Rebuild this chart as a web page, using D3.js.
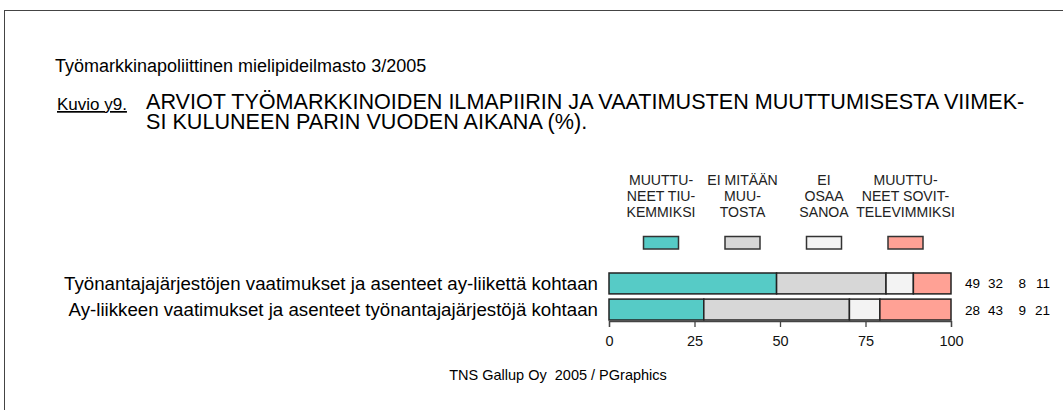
<!DOCTYPE html>
<html>
<head>
<meta charset="utf-8">
<script src="https://cdn.jsdelivr.net/npm/d3@7"></script>
<style>
  body { margin: 0; background: #fff; }
  svg { display: block; font-family: "Liberation Sans", Arial, sans-serif; }
</style>
</head>
<body>
<svg id="chart" width="1063" height="410"></svg>
<script>
// data
var categories = [
  "Työnantajajärjestöjen vaatimukset ja asenteet ay-liikettä kohtaan",
  "Ay-liikkeen vaatimukset ja asenteet työnantajajärjestöjä kohtaan"
];
var seriesKeys = ["tiukemmiksi", "eiMuutosta", "eos", "sovittelevammiksi"];
var seriesLabels = [
  ["MUUTTU-", "NEET TIU-", "KEMMIKSI"],
  ["EI MITÄÄN", "MUU-", "TOSTA"],
  ["EI", "OSAA", "SANOA"],
  ["MUUTTU-", "NEET SOVIT-", "TELEVIMMIKSI"]
];
var tiukemmiksi = [49, 28];
var eiMuutosta = [32, 43];
var eos = [8, 9];
var sovittelevammiksi = [11, 21];
var colors = ["#56cbc6", "#d7d7d7", "#f3f3f3", "#ffa195"];
var tickValues = [0, 25, 50, 75, 100];
var titleLines = [
  "ARVIOT TYÖMARKKINOIDEN ILMAPIIRIN JA VAATIMUSTEN MUUTTUMISESTA VIIMEK-",
  "SI KULUNEEN PARIN VUODEN AIKANA (%)."
];

var svg = d3.select("svg#chart");

var rows = categories.map(function(c, i) {
  return {
    cat: c,
    tiukemmiksi: tiukemmiksi[i],
    eiMuutosta: eiMuutosta[i],
    eos: eos[i],
    sovittelevammiksi: sovittelevammiksi[i]
  };
});

// frame (runs off the right and bottom edge like in the original)
svg.append("rect")
    .attr("x", 4.5).attr("y", 10.5)
    .attr("width", 1100).attr("height", 450)
    .attr("fill", "none")
    .attr("stroke", "#444");

svg.append("text")
    .attr("x", 55).attr("y", 72)
    .attr("font-size", 18)
    .text("Työmarkkinapoliittinen mielipideilmasto 3/2005");

svg.append("text")
    .attr("x", 57).attr("y", 110)
    .attr("font-size", 17)
    .attr("text-decoration", "underline")
    .text("Kuvio y9.");

svg.append("g").selectAll("text")
  .data(titleLines)
  .enter().append("text")
    .attr("x", 146)
    .attr("y", function(d, i) { return 109 + i * 20; })
    .attr("font-size", 21.6)
    .text(function(d) { return d; });

var x = d3.scaleLinear().domain([0, 1]).range([609, 951]);
var xAxisScale = d3.scaleLinear().domain([0, 100]).range([609, 951]);
var y = d3.scaleBand().domain(categories).range([273, 320]).paddingInner(0.2);

// legend
var legendX = d3.scalePoint().domain(seriesKeys).range([661, 905.5]);
var legend = svg.append("g").selectAll("g")
  .data(seriesKeys)
  .enter().append("g")
    .attr("transform", function(d) { return "translate(" + legendX(d) + ",0)"; });

// the legend type is a bit narrow in the original
legend.append("text")
    .attr("transform", "scale(0.91,1)")
    .attr("text-anchor", "middle")
    .attr("font-size", 15.5)
    .attr("fill", "#222")
    .selectAll("tspan")
    .data(function(d, i) { return seriesLabels[i]; })
    .enter().append("tspan")
      .attr("x", 0)
      .attr("y", function(d, j) { return 185.5 + j * 16; })
      .text(function(d) { return d; });

legend.append("rect")
    .attr("x", -17.5).attr("y", 236.5)
    .attr("width", 35).attr("height", 12.5)
    .attr("fill", function(d, i) { return colors[i]; })
    .attr("stroke", "#333")
    .attr("stroke-width", 1.5);

// stacked bars, normalised to the row total
var stack = d3.stack().keys(seriesKeys).offset(d3.stackOffsetExpand);
var layers = stack(rows);

svg.append("g").selectAll("g")
  .data(layers)
  .enter().append("g")
    .attr("fill", function(d, i) { return colors[i]; })
  .selectAll("rect")
  .data(function(d) { return d; })
  .enter().append("rect")
    .attr("x", function(d) { return x(d[0]); })
    .attr("y", function(d) { return y(d.data.cat); })
    .attr("width", function(d) { return x(d[1]) - x(d[0]); })
    .attr("height", y.bandwidth())
    .attr("stroke", "#222")
    .attr("stroke-width", 1.5);

// category labels
svg.append("g").selectAll("text")
  .data(categories)
  .enter().append("text")
    .attr("x", 598)
    .attr("y", function(d) { return y(d) + y.bandwidth() / 2 + 6.5; })
    .attr("text-anchor", "end")
    .attr("font-size", 18.7)
    .text(function(d) { return d; });

// value columns at the right
var valueCols = [980, 1003, 1026, 1050];
rows.forEach(function(r) {
  svg.append("g").selectAll("text")
    .data(seriesKeys)
    .enter().append("text")
      .attr("x", function(d, i) { return valueCols[i]; })
      .attr("y", y(r.cat) + y.bandwidth() / 2 + 5)
      .attr("text-anchor", "end")
      .attr("font-size", 13.5)
      .text(function(d) { return r[d]; });
});

// axis
var axis = svg.append("g")
    .attr("transform", "translate(0,321)")
    .call(d3.axisBottom(xAxisScale).tickValues(tickValues).tickSize(6).tickPadding(9));
axis.select(".domain").attr("stroke", "#444").attr("stroke-width", 1.3);
axis.selectAll(".tick line").attr("stroke", "#444").attr("stroke-width", 1.3);
axis.selectAll(".tick text")
    .attr("font-size", 14.5)
    .attr("font-family", "'Liberation Sans', Arial, sans-serif")
    .attr("fill", "#111");

svg.append("text")
    .attr("x", 558).attr("y", 380)
    .attr("text-anchor", "middle")
    .attr("font-size", 14.5)
    .style("white-space", "pre")
    .text("TNS Gallup Oy  2005 / PGraphics");
</script>
</body>
</html>
